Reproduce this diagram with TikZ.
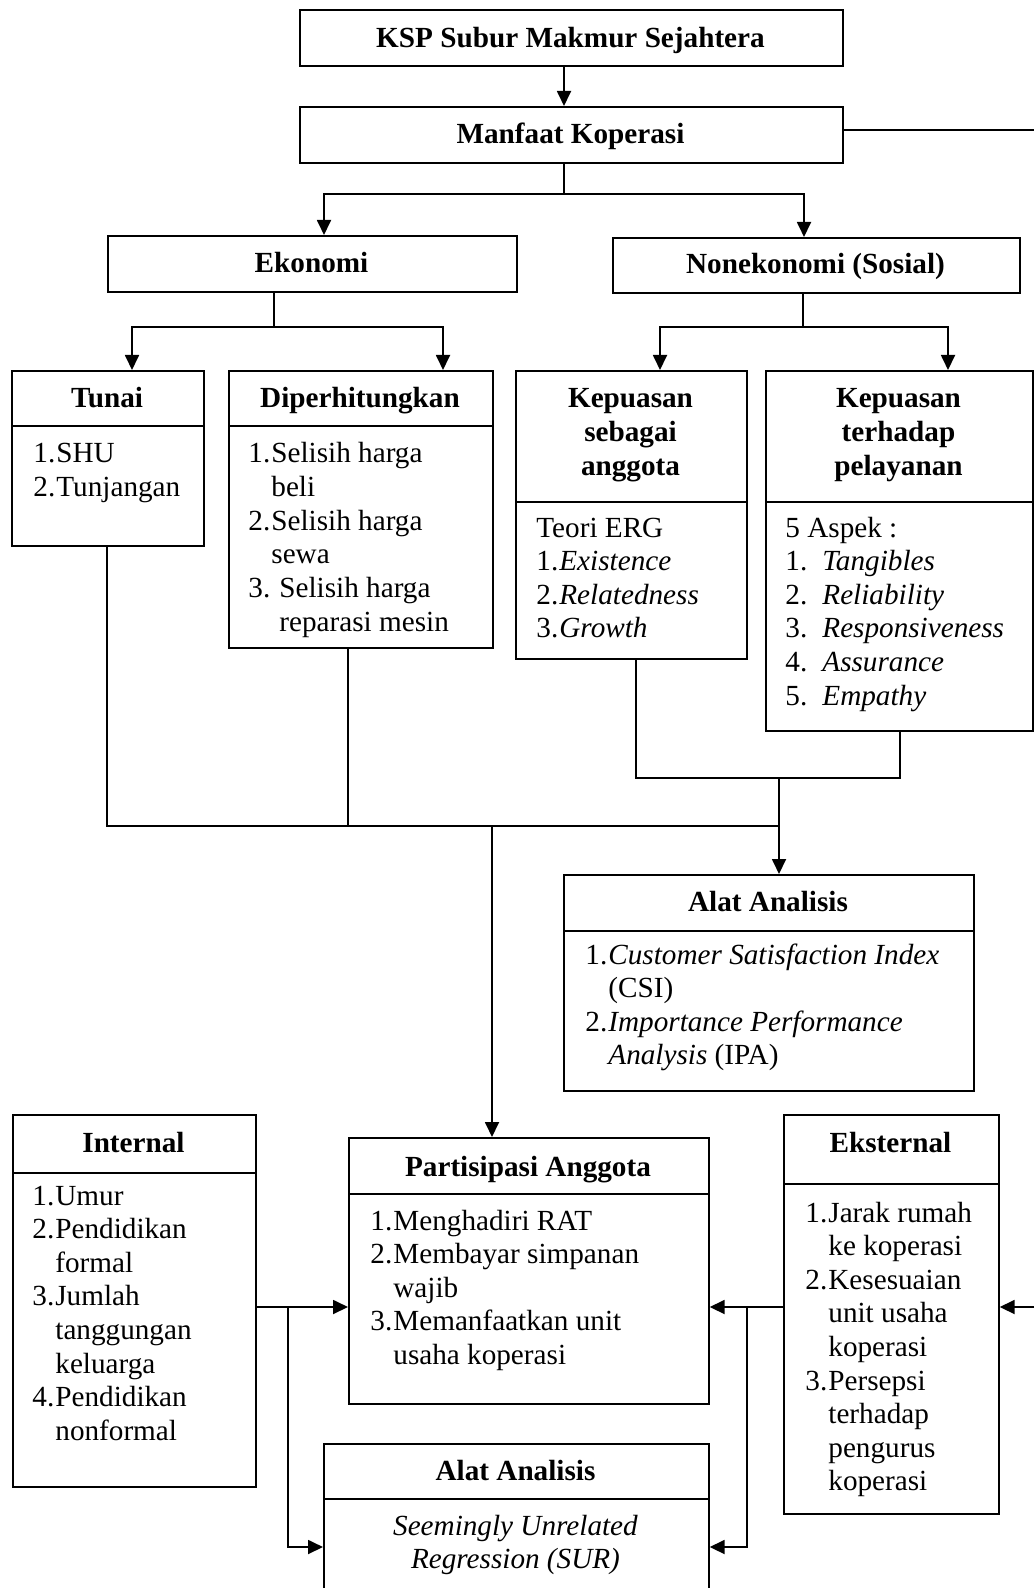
\documentclass[tikz,border=0pt]{standalone}
\usepackage{fontspec}
\setmainfont{Liberation Serif}
\usetikzlibrary{arrows.meta}
\newcommand\fs{\fontsize{14.6pt}{16.8pt}\selectfont}
\newcommand\nm[1]{\makebox[11.5pt][l]{#1}}
\newcommand\hang{\hspace*{11.5pt}}
\newcommand\mybox[5]{\node[box, minimum width={(#4-#2)*0.5pt}, minimum height={(#5-#3)*0.5pt}] (#1) at (#2,#3) {};}
\begin{document}
\begin{tikzpicture}[x=0.5pt,y=-0.5pt,
 box/.style={draw, line width=0.85pt, inner sep=0pt, anchor=north west},
 hd/.style={font=\fs\bfseries, anchor=base, inner sep=0pt},
 lst/.style={font=\fs, anchor=base west, inner sep=0pt},
 ctr/.style={font=\fs, anchor=base, inner sep=0pt},
 ln/.style={line width=0.9pt},
 arr/.style={line width=0.9pt, -{Triangle[length=7.5pt,width=7pt]}}]
\useasboundingbox (0,0) rectangle (1034,1588);
\clip (0,0) rectangle (1034,1588);

% boxes
\mybox{ksp}{299}{9}{842}{65}
\mybox{man}{299}{106}{842}{162}
\mybox{eko}{107}{235}{516}{291}
\mybox{non}{612}{237}{1019}{292}
\mybox{tunH}{11}{370}{203}{425}
\mybox{tunB}{11}{425}{203}{545}
\mybox{dipH}{228}{370}{492}{425}
\mybox{dipB}{228}{425}{492}{647}
\mybox{ksaH}{515}{370}{746}{501}
\mybox{ksaB}{515}{501}{746}{658}
\mybox{ktpH}{765}{370}{1032}{501}
\mybox{ktpB}{765}{501}{1032}{730}
\mybox{aaH}{563}{874}{973}{930}
\mybox{aaB}{563}{930}{973}{1090}
\mybox{intH}{12}{1114}{255}{1172}
\mybox{intB}{12}{1172}{255}{1486}
\mybox{parH}{348}{1137}{708}{1193}
\mybox{parB}{348}{1193}{708}{1403}
\mybox{eksH}{783}{1114}{998}{1183}
\mybox{eksB}{783}{1183}{998}{1513}
\mybox{abH}{323}{1443}{708}{1498}
\mybox{abB}{323}{1498}{708}{1620}

% headers
\node[hd] (tKsp) at (570.5,48) {KSP Subur Makmur Sejahtera};
\node[hd] (tMan) at (570.5,144) {Manfaat Koperasi};
\node[hd] (tEko) at (311.5,273) {Ekonomi};
\node[hd] (tNon) at (815.5,274) {Nonekonomi (Sosial)};
\node[hd] (tTun) at (107,408) {Tunai};
\node[hd] (tDip) at (360,408) {Diperhitungkan};
\node[hd] (tKsa) at (630.5,408) {\begin{tabular}[t]{@{}c@{}}Kepuasan\\ sebagai\\ anggota\end{tabular}};
\node[hd] (tKtp) at (898.5,408) {\begin{tabular}[t]{@{}c@{}}Kepuasan\\ terhadap\\ pelayanan\end{tabular}};
\node[hd] (tAa) at (768,911) {Alat Analisis};
\node[hd] (tInt) at (133.5,1152) {Internal};
\node[hd] (tPar) at (528,1176) {Partisipasi Anggota};
\node[hd] (tEks) at (890.5,1152) {Eksternal};
\node[hd] (tAb) at (515.5,1480) {Alat Analisis};

% lists
\node[lst] (lTun) at (33,463) {\begin{tabular}[t]{@{}l@{}}\nm{1.}SHU\\ \nm{2.}Tunjangan\end{tabular}};
\node[lst] (lDip) at (248,463) {\begin{tabular}[t]{@{}l@{}}\nm{1.}Selisih harga\\ \hang beli\\ \nm{2.}Selisih harga\\ \hang sewa\\ \makebox[15.5pt][l]{3.}Selisih harga\\ \hspace*{15.5pt}reparasi mesin\end{tabular}};
\node[lst] (lKsa) at (536,537) {\begin{tabular}[t]{@{}l@{}}Teori ERG\\ \nm{1.}\textit{Existence}\\ \nm{2.}\textit{Relatedness}\\ \nm{3.}\textit{Growth}\end{tabular}};
\node[lst] (lKtp) at (785,537) {\begin{tabular}[t]{@{}l@{}}5 Aspek :\\ \makebox[18.5pt][l]{1.}\textit{Tangibles}\\ \makebox[18.5pt][l]{2.}\textit{Reliability}\\ \makebox[18.5pt][l]{3.}\textit{Responsiveness}\\ \makebox[18.5pt][l]{4.}\textit{Assurance}\\ \makebox[18.5pt][l]{5.}\textit{Empathy}\end{tabular}};
\node[lst] (lAa) at (585,964) {\begin{tabular}[t]{@{}l@{}}\nm{1.}\textit{Customer Satisfaction Index}\\ \hang(CSI)\\ \nm{2.}\textit{Importance Performance}\\ \hang\textit{Analysis} (IPA)\end{tabular}};
\node[lst] (lInt) at (32,1205) {\begin{tabular}[t]{@{}l@{}}\nm{1.}Umur\\ \nm{2.}Pendidikan\\ \hang formal\\ \nm{3.}Jumlah\\ \hang tanggungan\\ \hang keluarga\\ \nm{4.}Pendidikan\\ \hang nonformal\end{tabular}};
\node[lst] (lPar) at (370,1230) {\begin{tabular}[t]{@{}l@{}}\nm{1.}Menghadiri RAT\\ \nm{2.}Membayar simpanan\\ \hang wajib\\ \nm{3.}Memanfaatkan unit\\ \hang usaha koperasi\end{tabular}};
\node[lst] (lEks) at (805,1222) {\begin{tabular}[t]{@{}l@{}}\nm{1.}Jarak rumah\\ \hang ke koperasi\\ \nm{2.}Kesesuaian\\ \hang unit usaha\\ \hang koperasi\\ \nm{3.}Persepsi\\ \hang terhadap\\ \hang pengurus\\ \hang koperasi\end{tabular}};
\node[ctr] (lAb) at (515.5,1535) {\begin{tabular}[t]{@{}c@{}}\textit{Seemingly Unrelated}\\ \textit{Regression (SUR)}\end{tabular}};

% connectors
\coordinate (xa) at (564,0);
\draw[arr] (ksp.south -| xa) -- (man.north -| xa);
\coordinate (re1) at (1034,130);
\draw[ln] (man.east |- re1) -- (re1);
\coordinate (j1) at (564,194);
\coordinate (xe) at (324,0);
\coordinate (xn) at (804,0);
\draw[ln] (man.south -| xa) -- (j1);
\draw[arr] (j1) -| (eko.north -| xe);
\draw[arr] (j1) -| (non.north -| xn);

\coordinate (xk) at (274,0);
\coordinate (j2) at (274,327);
\draw[ln] (eko.south -| xk) -- (j2);
\coordinate (xt) at (132,0);
\coordinate (xd) at (443,0);
\draw[arr] (j2) -| (tunH.north -| xt);
\draw[arr] (j2) -| (dipH.north -| xd);

\coordinate (xs) at (803,0);
\coordinate (j3) at (803,327);
\draw[ln] (non.south -| xs) -- (j3);
\coordinate (x1) at (660,0);
\coordinate (x2) at (948,0);
\draw[arr] (j3) -| (ksaH.north -| x1);
\draw[arr] (j3) -| (ktpH.north -| x2);

\coordinate (j4) at (779,826);
\coordinate (xtb) at (107,0);
\coordinate (xdb) at (348,0);
\coordinate (j5) at (348,826);
\draw[ln] (tunB.south -| xtb) |- (j4);
\draw[ln] (dipB.south -| xdb) -- (j5);

\coordinate (xsb) at (636,0);
\coordinate (xpb) at (900,0);
\coordinate (k1) at (636,778);
\coordinate (k2) at (900,778);
\coordinate (j6) at (779,778);
\draw[ln] (ksaB.south -| xsb) -- (k1) -- (k2) -- (ktpB.south -| xpb);
\draw[arr] (j6) -- (aaH.north -| j6);

\coordinate (j7) at (492,826);
\draw[arr] (j7) -- (parH.north -| j7);

\coordinate (yl) at (0,1307);
\coordinate (yb) at (0,1547);
\draw[arr] (intB.east |- yl) -- (parB.west |- yl);
\coordinate (j8) at (288,1307);
\draw[arr] (j8) |- (abB.west |- yb);
\draw[arr] (eksB.west |- yl) -- (parB.east |- yl);
\coordinate (j9) at (747,1307);
\draw[arr] (j9) |- (abB.east |- yb);
\coordinate (re2) at (1034,1307);
\draw[arr] (re2) -- (eksB.east |- yl);
\end{tikzpicture}
\end{document}
